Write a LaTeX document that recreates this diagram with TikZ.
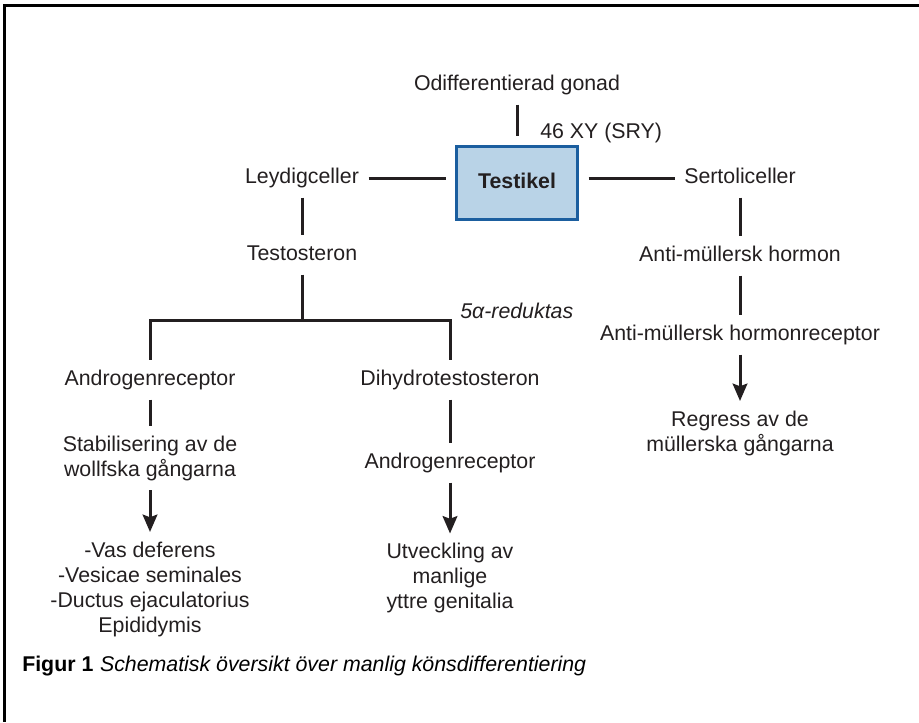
\documentclass[tikz,border=0pt]{standalone}
\usepackage{fontspec}
\setmainfont{Liberation Sans}
\newfontfamily\capfont{Liberation Sans}
\usetikzlibrary{arrows.meta}
\definecolor{testisFill}{HTML}{B9D3E7}
\definecolor{testisLine}{HTML}{1B5E9F}
\definecolor{inkGray}{HTML}{231F20}

\begin{document}
\begin{tikzpicture}[x=0.75pt,y=-0.75pt,
    every node/.style={font=\fontsize{16}{18.75}\selectfont, text=inkGray, inner sep=0pt,
                       text height=11.5pt, text depth=3.5pt, align=center},
    multi/.style={text height={}, text depth={}},
    link/.style={line width=2.25pt, draw=inkGray, shorten <=7pt, shorten >=7pt},
    arrowlink/.style={link, -{Stealth[length=13pt,width=11pt,inset=2pt]}}]
    \useasboundingbox (0,0) rectangle (919,722);
    \draw[line width=2.25pt] (919,5) -- (4,5) -- (4,722);
    \node (gonad) at (517,85) {Odifferentierad gonad};
    \node[draw=testisLine, fill=testisFill, line width=2.25pt, minimum width=91pt, minimum height=55pt,
          font=\fontsize{16}{18.75}\selectfont\bfseries] (testikel) at (517,183) {Testikel};
    \node[anchor=west] (sry) at (540,133) {46 XY (SRY)};
    \node (leydig) at (302,178) {Leydigceller};
    \node (sertoli) at (740,178) {Sertoliceller};
    \node (testo) at (302,255) {Testosteron};
    \coordinate (fork) at (302,320);
    \node[anchor=west, font=\fontsize{16}{18.75}\selectfont\itshape] (reduktas) at (460,313) {5α-reduktas};
    \node (androL) at (150,380) {Androgenreceptor};
    \node (dht) at (450,380) {Dihydrotestosteron};
    \node[multi] (stab) at (150,458) {Stabilisering av de\\wollfska gångarna};
    \node[multi] (vas) at (150,589) {-Vas deferens\\-Vesicae seminales\\-Ductus ejaculatorius\\Epididymis};
    \node (androR) at (450,463) {Androgenreceptor};
    \node[multi] (utv) at (450,578) {Utveckling av\\manlige\\yttre genitalia};
    \node (amh) at (740,256) {Anti-müllersk hormon};
    \node (amhr) at (740,335) {Anti-müllersk hormonreceptor};
    \node[multi] (regr) at (740,433) {Regress av de\\müllerska gångarna};
    \node[anchor=west, text=black] (caption) at (22,666)
        {{\capfont\bfseries Figur 1}\hspace{5pt}{\capfont\itshape Schematisk översikt över manlig könsdifferentiering}};

    \draw[link] (gonad) -- (testikel);
    \draw[link] (leydig) -- (leydig -| testikel.west);
    \draw[link] (sertoli -| testikel.east) -- (sertoli);
    \draw[link] (leydig) -- (testo);
    \draw[link, shorten >=0pt] (testo) -- (fork);
    \draw[link, shorten <=0pt] (fork) -| (androL);
    \draw[link, shorten <=0pt] (fork) -| (dht);
    \draw[link] (androL) -- (stab);
    \draw[arrowlink] (stab) -- (vas);
    \draw[link] (dht) -- (androR);
    \draw[arrowlink] (androR) -- (utv);
    \draw[link] (sertoli) -- (amh);
    \draw[link] (amh) -- (amhr);
    \draw[arrowlink] (amhr) -- (regr);
\end{tikzpicture}
\end{document}
